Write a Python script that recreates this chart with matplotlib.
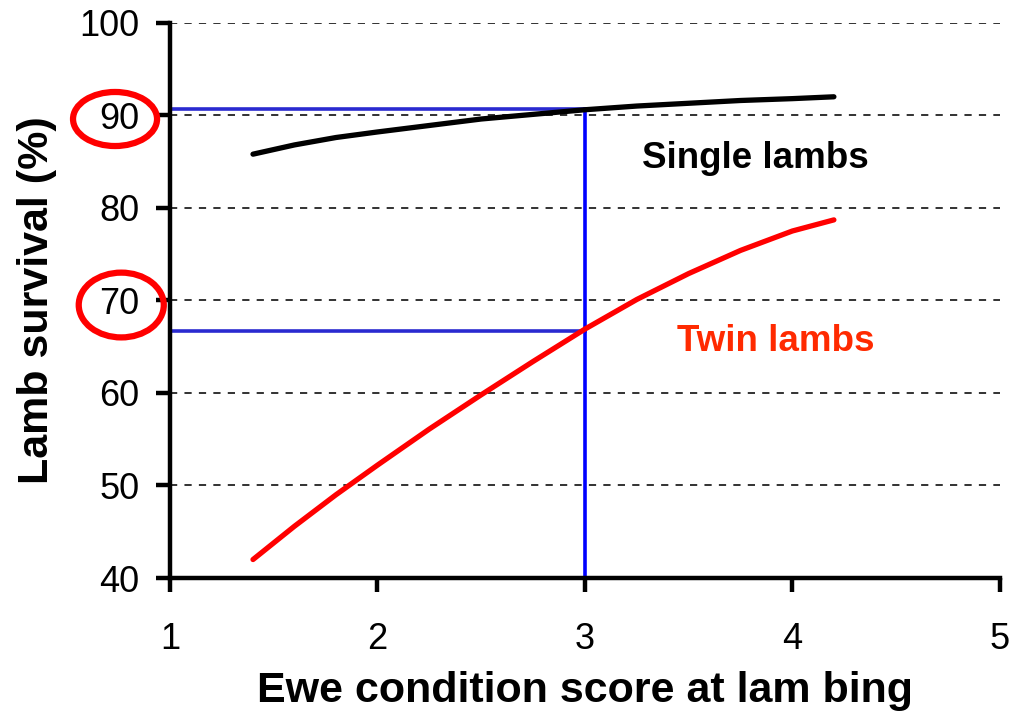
import matplotlib
matplotlib.use("Agg")
import matplotlib.pyplot as plt
from matplotlib.patches import Ellipse

plt.rcParams['font.family'] = ['Liberation Sans', 'DejaVu Sans']

# Data
score = [1.4, 1.6, 1.8, 2.0, 2.25, 2.5, 2.75, 3.0, 3.25, 3.5, 3.75, 4.0, 4.2]
single = [85.8, 86.8, 87.6, 88.2, 88.9, 89.6, 90.1, 90.6, 91.0, 91.3, 91.6, 91.8, 92.0]
twin = [42.0, 45.6, 49.0, 52.2, 56.1, 59.8, 63.4, 66.9, 70.1, 72.9, 75.4, 77.5, 78.7]
x_ticks = [1, 2, 3, 4, 5]
y_ticks = [40, 50, 60, 70, 80, 90, 100]
ref_score = 3.0
ref_single = 90.7
ref_twin = 66.7

fig = plt.figure(figsize=(10.12, 7.11), dpi=100)
ax = fig.add_axes([0.168, 0.187, 0.820, 0.781])

ax.set_xlim(1, 5)
ax.set_ylim(40, 100)

for y in y_ticks[1:]:
    ax.axhline(y, color='#222222', lw=1.3, ls=(0, (4, 4)), zorder=1)

ax.plot(score, single, color='black', lw=3.8, solid_capstyle='round',
        solid_joinstyle='round', zorder=3)
ax.plot(score, twin, color='#ff0000', lw=3.8, solid_capstyle='round',
        solid_joinstyle='round', zorder=3)

ax.plot([1, ref_score], [ref_single, ref_single], color='#2a2ad0', lw=2.6, zorder=2)
ax.plot([1, ref_score], [ref_twin, ref_twin], color='#2a2ad0', lw=2.6, zorder=2)
ax.plot([ref_score, ref_score], [40, ref_single], color='#0000ff', lw=2.6, zorder=2)

ax.text(3.82, 85.3, 'Single lambs', fontsize=26.5, fontweight='bold', color='black',
        ha='center', va='center')
ax.text(3.92, 65.6, 'Twin lambs', fontsize=26.5, fontweight='bold', color='#ff2a00',
        ha='center', va='center')

for s in ['top', 'right']:
    ax.spines[s].set_visible(False)
for s in ['left', 'bottom']:
    ax.spines[s].set_linewidth(3.2)
    ax.spines[s].set_color('black')

ax.set_xticks(x_ticks)
ax.set_yticks(y_ticks)
ax.tick_params(axis='both', direction='out', length=10, width=3.2, labelsize=26,
               colors='black')
ax.tick_params(axis='x', pad=22)
ax.tick_params(axis='y', pad=12)

ax.set_xlabel('Ewe condition score at lam bing', fontsize=31, fontweight='bold', labelpad=10)
ax.set_ylabel('Lamb survival (%)', fontsize=31, fontweight='bold', labelpad=16)

e1 = Ellipse((0.735, 89.6), 0.405, 5.84, fill=False, edgecolor='#ff0000', lw=4.5,
             clip_on=False, zorder=5)
e2 = Ellipse((0.765, 69.5), 0.41, 7.0, fill=False, edgecolor='#ff0000', lw=4.5,
             clip_on=False, zorder=5)
ax.add_patch(e1)
ax.add_patch(e2)

fig.savefig('out.png', dpi=100)
